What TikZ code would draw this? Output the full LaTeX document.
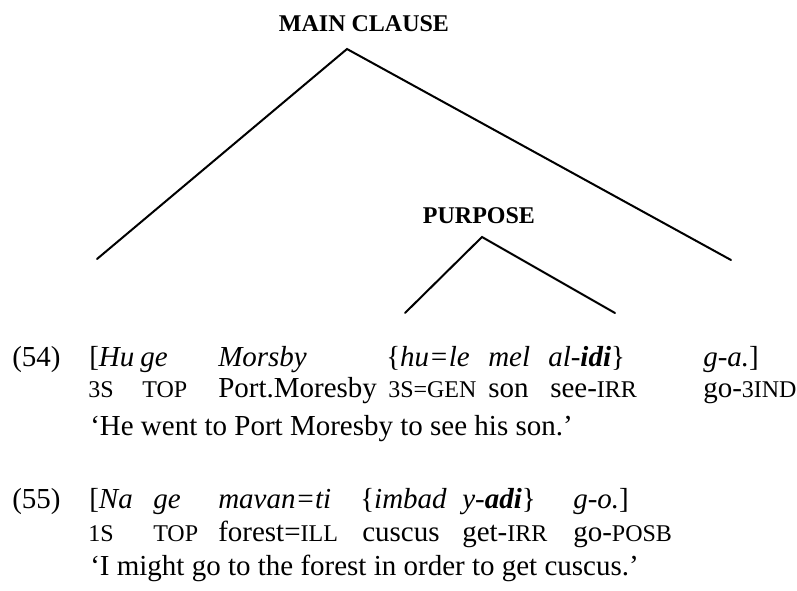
\documentclass[tikz,border=0pt]{standalone}
\usepackage{fontspec}
\setmainfont{Liberation Serif}
\newcommand{\glossfont}{\fontsize{18}{20}\selectfont}
\newcommand{\sm}[1]{{\glossfont #1}}
\tikzset{
  word/.style={anchor=base west, inner sep=0pt, font=\fontsize{21.75}{26}\selectfont},
  head/.style={anchor=base, inner sep=0pt, font=\fontsize{18}{20}\selectfont\bfseries},
  branch/.style={line width=1.5pt, line cap=round},
}
\begin{document}
\begin{tikzpicture}[x=0.75pt, y=-0.75pt]
  \useasboundingbox (0,0) rectangle (797,590);

  % tree over example (54)
  \node[head] (main) at (364,31) {MAIN CLAUSE};
  \coordinate (mainTop) at (347,49);
  \coordinate (mainL) at (97,259);
  \coordinate (mainR) at (731,260);
  \draw[branch] (mainL) -- (mainTop) -- (mainR);

  \node[head] (purp) at (479,223) {PURPOSE};
  \coordinate (purpTop) at (482,237);
  \coordinate (purpL) at (405,313);
  \coordinate (purpR) at (615,313);
  \draw[branch] (purpL) -- (purpTop) -- (purpR);

  % example (54)
  \node[word] (n54) at (12,366) {(54)};
  \node[word] (a1) at (89,366)  {[\textit{Hu}};
  \node[word] (a2) at (140,366) {\textit{ge}};
  \node[word] (a3) at (218,366) {\textit{Morsby}};
  \node[word] (a4) at (386,366) {\{\textit{hu=le}};
  \node[word] (a5) at (488,366) {\textit{mel}};
  \node[word] (a6) at (548,366) {\textit{al-\textbf{idi}}\}};
  \node[word] (a7) at (703,366) {\textit{g-a.}]};

  \node[word] (b1) at (88,397)  {\sm{3S}};
  \node[word] (b2) at (142,397) {\sm{TOP}};
  \node[word] (b3) at (218,397) {Port.Moresby};
  \node[word] (b4) at (388,397) {\sm{3S=GEN}};
  \node[word] (b5) at (488,397) {son};
  \node[word] (b6) at (550,397) {see-\sm{IRR}};
  \node[word] (b7) at (703,397) {go-\sm{3IND}};

  \node[word] (t54) at (90,435) {‘He went to Port Moresby to see his son.’};

  % example (55)
  \node[word] (n55) at (12,508) {(55)};
  \node[word] (c1) at (89,508)  {[\textit{Na}};
  \node[word] (c2) at (153,508) {\textit{ge}};
  \node[word] (c3) at (218,508) {\textit{mavan=ti}};
  \node[word] (c4) at (360,508) {\{\textit{imbad}};
  \node[word] (c5) at (462,508) {\textit{y-\textbf{adi}}\}};
  \node[word] (c6) at (573,508) {\textit{g-o.}]};

  \node[word] (d1) at (88,541)  {\sm{1S}};
  \node[word] (d2) at (153,541) {\sm{TOP}};
  \node[word] (d3) at (218,541) {forest=\sm{ILL}};
  \node[word] (d4) at (362,541) {cuscus};
  \node[word] (d5) at (462,541) {get-\sm{IRR}};
  \node[word] (d6) at (573,541) {go-\sm{POSB}};

  \node[word] (t55) at (90,575) {‘I might go to the forest in order to get cuscus.’};
\end{tikzpicture}
\end{document}
